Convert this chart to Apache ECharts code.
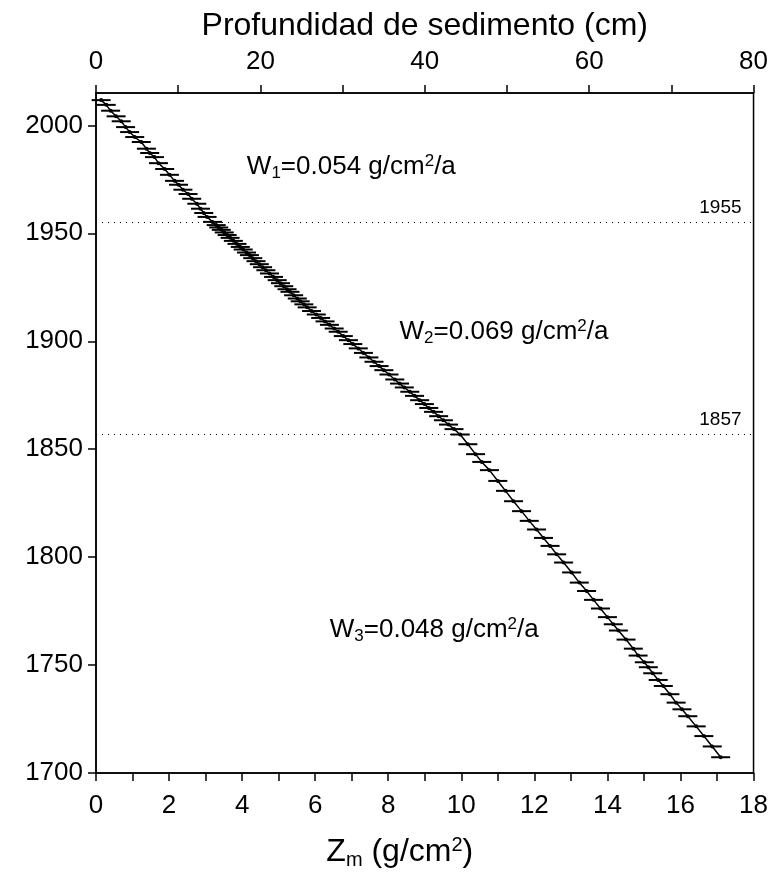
<!DOCTYPE html>
<html>
<head>
<meta charset="utf-8">
<script src="https://cdn.jsdelivr.net/npm/echarts@6/dist/echarts.min.js"></script>
<style>
  html, body { margin: 0; padding: 0; background: #fff; }
  #chart { width: 771px; height: 881px; }
</style>
</head>
<body>
<div id="chart"></div>
<script>
// Cumulative dry mass depth (g/cm2) of each slice and its assigned year
const zmValues = [
  0.14, 0.28, 0.40, 0.55, 0.69, 0.81, 0.92, 1.06, 1.24, 1.38, 1.47, 1.60,
  1.71, 1.88, 2.01, 2.15, 2.26, 2.38, 2.52, 2.62, 2.76, 2.86, 2.95, 3.04,
  3.19, 3.29, 3.36, 3.43, 3.51, 3.59, 3.67, 3.76, 3.86, 3.95, 4.03, 4.12,
  4.20, 4.29, 4.38, 4.47, 4.56, 4.65, 4.75, 4.86, 4.96, 5.05, 5.14, 5.23,
  5.31, 5.41, 5.51, 5.59, 5.69, 5.78, 5.90, 6.03, 6.15, 6.27, 6.39, 6.52,
  6.63, 6.77, 6.91, 7.03, 7.18, 7.32, 7.47, 7.61, 7.75, 7.88, 8.02, 8.18,
  8.31, 8.44, 8.59, 8.72, 8.86, 8.99, 9.11, 9.24, 9.38, 9.51, 9.65, 9.80,
  9.97, 10.18, 10.39, 10.56, 10.77, 11.00, 11.21, 11.43, 11.65, 11.86, 12.06, 12.25,
  12.43, 12.61, 12.80, 13.02, 13.23, 13.43, 13.62, 13.81, 14.00, 14.16, 14.30, 14.51,
  14.71, 14.84, 15.01, 15.12, 15.24, 15.39, 15.53, 15.71, 15.88, 16.04, 16.20, 16.43,
  16.64, 16.87, 17.10
];
const yearValues = [
  2011.7, 2009.5, 2006.8, 2004.2, 2001.9, 1999.2, 1996.9, 1994.6, 1992.3, 1989.2, 1987.2, 1985.3,
  1982.5, 1979.8, 1977.1, 1974.3, 1972.5, 1970.2, 1968.2, 1966.0, 1963.7, 1961.4, 1959.4, 1957.6,
  1955.3, 1953.8, 1952.7, 1951.6, 1950.4, 1949.2, 1947.9, 1946.5, 1945.1, 1943.7, 1942.5, 1941.1,
  1939.9, 1938.5, 1937.1, 1935.7, 1934.3, 1932.9, 1931.4, 1929.8, 1928.3, 1926.9, 1925.5, 1924.1,
  1922.9, 1921.3, 1919.8, 1918.5, 1917.1, 1915.7, 1914.0, 1912.4, 1910.8, 1909.2, 1907.6, 1905.9,
  1904.4, 1902.4, 1900.5, 1898.7, 1896.7, 1894.6, 1892.5, 1890.5, 1888.5, 1886.6, 1884.6, 1882.3,
  1880.4, 1878.6, 1876.6, 1874.7, 1872.7, 1870.9, 1869.1, 1867.3, 1865.3, 1863.4, 1861.4, 1859.3,
  1856.8, 1852.3, 1847.7, 1844.1, 1840.3, 1835.3, 1830.7, 1825.9, 1821.3, 1816.8, 1812.8, 1808.9,
  1805.2, 1801.3, 1797.5, 1792.9, 1788.2, 1784.3, 1780.2, 1776.2, 1772.2, 1768.9, 1766.0, 1761.8,
  1757.6, 1754.4, 1751.3, 1749.0, 1746.2, 1743.1, 1740.3, 1736.5, 1732.6, 1729.5, 1726.3, 1721.6,
  1717.1, 1712.3, 1707.3
];
// Half-width of the horizontal uncertainty bar on Zm (g/cm2)
const zmError = 0.26;

// Boundary years between accumulation regimes
const boundaryYears = [1955, 1857];

// Accumulation-rate annotations
const rateLabels = ['1', '2', '3'];
const rateValues = ['0.054', '0.069', '0.048'];
const rateZm = [4.13, 8.31, 6.40];
const rateYear = [1980.8, 1904.2, 1766.2];

// Tick and label positions
const zmTicks = [0, 1, 2, 3, 4, 5, 6, 7, 8, 9, 10, 11, 12, 13, 14, 15, 16, 17, 18];
const zmLabels = [0, 2, 4, 6, 8, 10, 12, 14, 16, 18];
const depthTicks = [0, 10, 20, 30, 40, 50, 60, 70, 80];
const depthLabels = [0, 20, 40, 60, 80];
const yearTicks = [1700, 1750, 1800, 1850, 1900, 1950, 2000];

const FONT = "'Liberation Sans', Arial, Helvetica, sans-serif";
const BLACK = '#000';

const points = zmValues.map((z, i) => [z, yearValues[i]]);
const notes = rateZm.map((z, i) => [z, rateYear[i], rateLabels[i], rateValues[i]]);

const chart = echarts.init(document.getElementById('chart'), null, { renderer: 'canvas' });

const axisLineStyle = { color: BLACK, width: 1.5 };
const plain = v => String(v);

chart.setOption({
  animation: false,
  backgroundColor: '#fff',
  grid: {
    left: 96, right: 16, top: 93, bottom: 108,
    show: true, borderColor: BLACK, borderWidth: 1.5
  },
  xAxis: [
    {
      type: 'value', position: 'bottom', min: 0, max: 18, interval: 1,
      axisLine: { show: true, onZero: false, lineStyle: axisLineStyle },
      axisTick: { show: true, length: 8, lineStyle: axisLineStyle, customValues: zmTicks },
      axisLabel: { color: BLACK, fontSize: 26, fontFamily: FONT, margin: 20, customValues: zmLabels, formatter: plain },
      splitLine: { show: false },
      name: 'Z{sub|m} (g/cm{sup|2})',
      nameLocation: 'middle', nameGap: 62,
      nameTextStyle: {
        color: BLACK, fontSize: 32, fontFamily: FONT,
        padding: [0, 50, 0, 0],
        rich: {
          sub: { fontSize: 20, fontFamily: FONT, color: BLACK, verticalAlign: 'bottom', padding: [15, 0, 0, 0] },
          sup: { fontSize: 20, fontFamily: FONT, color: BLACK, verticalAlign: 'top', padding: [0, 0, 13, 0] }
        }
      }
    },
    {
      type: 'value', position: 'top', min: 0, max: 80, interval: 10,
      axisLine: { show: true, onZero: false, lineStyle: axisLineStyle },
      axisTick: { show: true, length: 8, lineStyle: axisLineStyle, customValues: depthTicks },
      axisLabel: { color: BLACK, fontSize: 26, fontFamily: FONT, margin: 18, customValues: depthLabels, formatter: plain },
      splitLine: { show: false },
      name: 'Profundidad de sedimento (cm)',
      nameLocation: 'middle', nameGap: 51,
      nameTextStyle: { color: BLACK, fontSize: 32, fontFamily: FONT }
    }
  ],
  yAxis: {
    type: 'value', min: 1700, max: 2015, interval: 50,
    axisLine: { show: true, onZero: false, lineStyle: axisLineStyle },
    axisTick: { show: true, length: 8, lineStyle: axisLineStyle, customValues: yearTicks },
    axisLabel: { color: BLACK, fontSize: 26, fontFamily: FONT, margin: 13, customValues: yearTicks, formatter: plain },
    splitLine: { show: false }
  },
  series: [
    {
      // horizontal uncertainty bars
      type: 'custom',
      xAxisIndex: 0, yAxisIndex: 0,
      data: points,
      silent: true,
      z: 2,
      renderItem: function (params, api) {
        const y = api.value(1);
        const p0 = api.coord([api.value(0) - zmError, y]);
        const p1 = api.coord([api.value(0) + zmError, y]);
        return {
          type: 'line',
          shape: { x1: p0[0], y1: p0[1], x2: p1[0], y2: p1[1] },
          style: { stroke: BLACK, lineWidth: 2 }
        };
      }
    },
    {
      type: 'line',
      xAxisIndex: 0, yAxisIndex: 0,
      data: points,
      symbol: 'circle', symbolSize: 4,
      itemStyle: { color: BLACK },
      lineStyle: { color: BLACK, width: 1.5 },
      z: 3,
      markLine: {
        silent: true,
        symbol: 'none',
        lineStyle: { color: BLACK, width: 1, type: [1, 5] },
        label: {
          position: 'insideEndTop', color: BLACK, fontSize: 19, fontFamily: FONT,
          distance: [12, 5],
          formatter: p => String(p.value)
        },
        data: boundaryYears.map(v => ({ yAxis: v }))
      }
    },
    {
      // regime accumulation rates
      type: 'scatter',
      xAxisIndex: 0, yAxisIndex: 0,
      data: notes,
      symbolSize: 0,
      silent: true,
      itemStyle: { opacity: 1 },
      label: {
        show: true, position: 'right', distance: 0,
        color: BLACK, opacity: 1, fontSize: 26, fontFamily: FONT,
        formatter: p => 'W{sub|' + p.value[2] + '}=' + p.value[3] + ' g/cm{sup|2}/a',
        rich: {
          sub: { fontSize: 17, fontFamily: FONT, color: BLACK, verticalAlign: 'bottom', padding: [12, 0, 0, 0] },
          sup: { fontSize: 17, fontFamily: FONT, color: BLACK, verticalAlign: 'top', padding: [0, 0, 10, 0] }
        }
      }
    }
  ]
});
</script>
</body>
</html>
